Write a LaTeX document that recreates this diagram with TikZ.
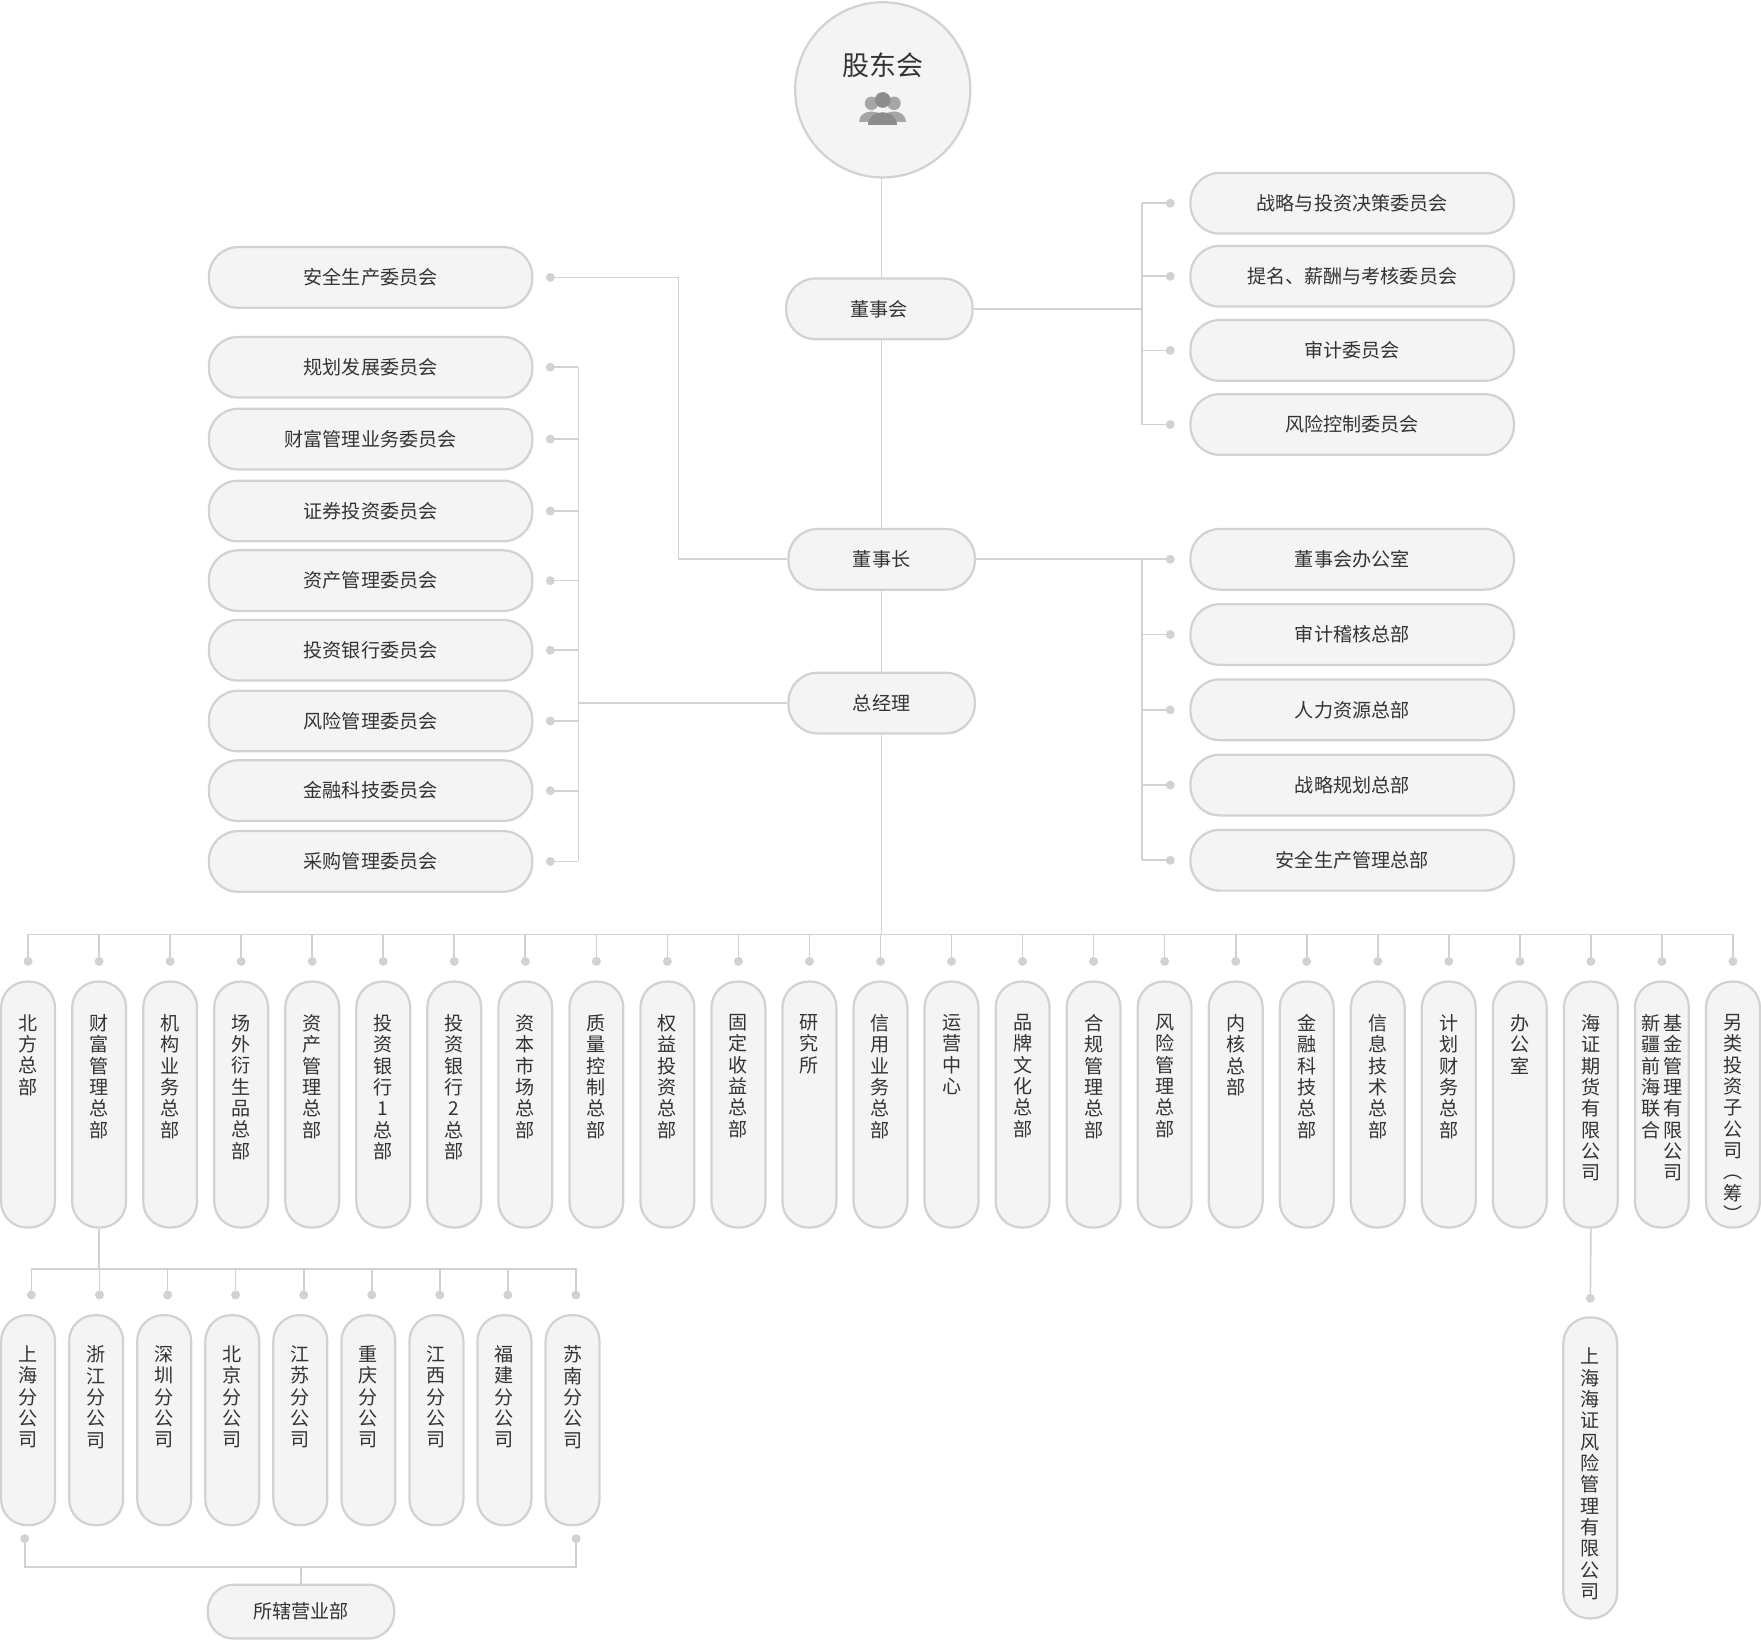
\documentclass[tikz,border=0pt]{standalone}
\usepackage{fontspec}
\setmainfont{Noto Sans CJK SC}
\usetikzlibrary{positioning}
\definecolor{linec}{HTML}{D2D2D2}
\definecolor{boxc}{HTML}{F4F4F4}
\definecolor{txtc}{HTML}{333333}
\def\vt#1{\vtx#1\relax}
\def\vtx#1{\ifx#1\relax\else#1\\\expandafter\vtx\fi}
\def\evt#1{\expandafter\vt\expandafter{#1}}
\begin{document}
\begin{tikzpicture}[x=1pt,y=-1pt,
  box/.style={draw=linec,line width=2pt,fill=boxc,rounded corners=26pt,minimum height=54pt,
    text=txtc,font=\fontsize{17}{20}\selectfont},
  col/.style={draw=linec,line width=2pt,fill=boxc,rounded corners=23pt,minimum width=48pt,anchor=north,inner sep=0pt},
  vtx/.style={text=txtc,font=\fontsize{17}{19}\selectfont,align=center,inner sep=0pt,anchor=north},
  conn/.style={draw=linec,line width=1.5pt},
  dot/.style={fill=linec}]
\useasboundingbox (0,0) rectangle (1568,1460);
% top of the chart
\node[circle,draw=linec,line width=2pt,fill=boxc,minimum size=156pt] (gdh) at (786,80) {};
\node[text=txtc,font=\fontsize{24}{26}\selectfont] at (786,58) {股东会};
\fill[gray!70] (776,92) circle (6) (796,92) circle (6);
\fill[gray!70] (765,109) .. controls (765,96) and (787,96) .. (787,109) -- cycle;
\fill[gray!70] (785,109) .. controls (785,96) and (807,96) .. (807,109) -- cycle;
\fill[gray!90] (786,89) circle (7);
\fill[gray!90] (773,111) .. controls (773,96) and (799,96) .. (799,111) -- cycle;
\node[box,minimum width=166pt] (dsh) at (783,275) {董事会};
\node[box,minimum width=166pt] (dsz) at (785,498) {董事长};
\node[box,minimum width=166pt] (zjl) at (785,626) {总经理};
\coordinate (trunk) at (785,832);
\draw[conn] (785,158) -- (785,248) (785,302) -- (dsz) -- (zjl) -- (trunk);
% left committees
\node[box,minimum width=288pt] (aqsc) at (330,247) {安全生产委员会};
\fill[dot] (490,247) circle (4) coordinate (daq);
\draw[conn] (daq) -- (604,247) -- (604,498) -- (dsz.west);
\foreach \t [count=\i] in {规划发展委员会,财富管理业务委员会,证券投资委员会,资产管理委员会,投资银行委员会,风险管理委员会,金融科技委员会,采购管理委员会}{
  \pgfmathsetmacro\yy{{0,327,391,455,517,579,642,704,767}[\i]}
  \node[box,minimum width=288pt] (lc\i) at (330,\yy) {\t};
  \fill[dot] (490,\yy) circle (4) coordinate (dl\i);
  \draw[conn] (dl\i) -- (515,\yy);
}
\draw[conn] (515,327) -- (515,767);
\draw[conn] (515,626) -- (zjl.west);
% right committees
\foreach \t [count=\i] in {战略与投资决策委员会,提名、薪酬与考核委员会,审计委员会,风险控制委员会}{
  \pgfmathsetmacro\yy{{0,181,246,312,378}[\i]}
  \node[box,minimum width=288pt] (rc\i) at (1204,\yy) {\t};
  \fill[dot] (1042,\yy) circle (4) coordinate (dr\i);
  \draw[conn] (dr\i) -- (1017,\yy);
}
\draw[conn] (1017,181) -- (1017,378) (dsh.east) -- (1017,275);
% right departments
\foreach \t [count=\i] in {董事会办公室,审计稽核总部,人力资源总部,战略规划总部,安全生产管理总部}{
  \pgfmathsetmacro\yy{{0,498,565,632,699,766}[\i]}
  \node[box,minimum width=288pt] (rd\i) at (1204,\yy) {\t};
  \fill[dot] (1042,\yy) circle (4) coordinate (dd\i);
  \draw[conn] (dd\i) -- (1017,\yy);
}
\draw[conn] (1017,498) -- (1017,766) (dsz.east) -- (1017,498);
% departments under the general manager
\draw[conn] (25,856) -- (25,832) -- (1543,832) -- (1543,856);
\foreach \t [count=\i] in {北方总部,财富管理总部,机构业务总部,场外衍生品总部,资产管理总部,投资银行1总部,投资银行2总部,资本市场总部,质量控制总部,权益投资总部,固定收益总部,研究所,信用业务总部,运营中心,品牌文化总部,合规管理总部,风险管理总部,内核总部,金融科技总部,信息技术总部,计划财务总部,办公室,海证期货有限公司,,另类投资子公司︵筹︶}{
  \pgfmathsetmacro\xx{25+(\i-1)*63.25}
  \draw[conn] (\xx,832) -- (\xx,856);
  \fill[dot] (\xx,856) circle (4);
  \node[col,minimum height=219pt] (d\i) at (\xx,873) {};
  \node[vtx,below=30pt of d\i.north] {\evt{\t}};
}
\node[vtx,below=30pt of d24.north,xshift=-10pt] {\vt{新疆前海联合}};
\node[vtx,below=30pt of d24.north,xshift=10pt] {\vt{基金管理有限公司}};
% branches
\draw[conn] (d2.south) -- (88.25,1130);
\draw[conn] (28,1153) -- (28,1130) -- (513,1130) -- (513,1153);
\foreach \t [count=\i] in {上海分公司,浙江分公司,深圳分公司,北京分公司,江苏分公司,重庆分公司,江西分公司,福建分公司,苏南分公司}{
  \pgfmathsetmacro\xx{25+(\i-1)*60.6}
  \pgfmathsetmacro\xd{28+(\i-1)*60.6}
  \draw[conn] (\xd,1130) -- (\xd,1153);
  \fill[dot] (\xd,1153) circle (4);
  \node[col,minimum height=187pt] (b\i) at (\xx,1170) {};
  \node[vtx,below=28pt of b\i.north] {\evt{\t}};
}
\node[box,minimum width=166pt,minimum height=48pt,rounded corners=23pt] (yyb) at (268,1435) {所辖营业部};
\fill[dot] (22,1370) circle (4) (513,1370) circle (4);
\draw[conn] (22,1370) -- (22,1395) -- (513,1395) -- (513,1370) (268,1395) -- (yyb.north);
% futures subsidiary
\node[col,minimum height=268pt] (fx) at (1416,1172) {};
\node[vtx,below=28pt of fx.north] {\vt{上海海证风险管理有限公司}};
\draw[conn] (d23.south) -- (1416,1156);
\fill[dot] (1416,1156) circle (4);
\end{tikzpicture}
\end{document}
